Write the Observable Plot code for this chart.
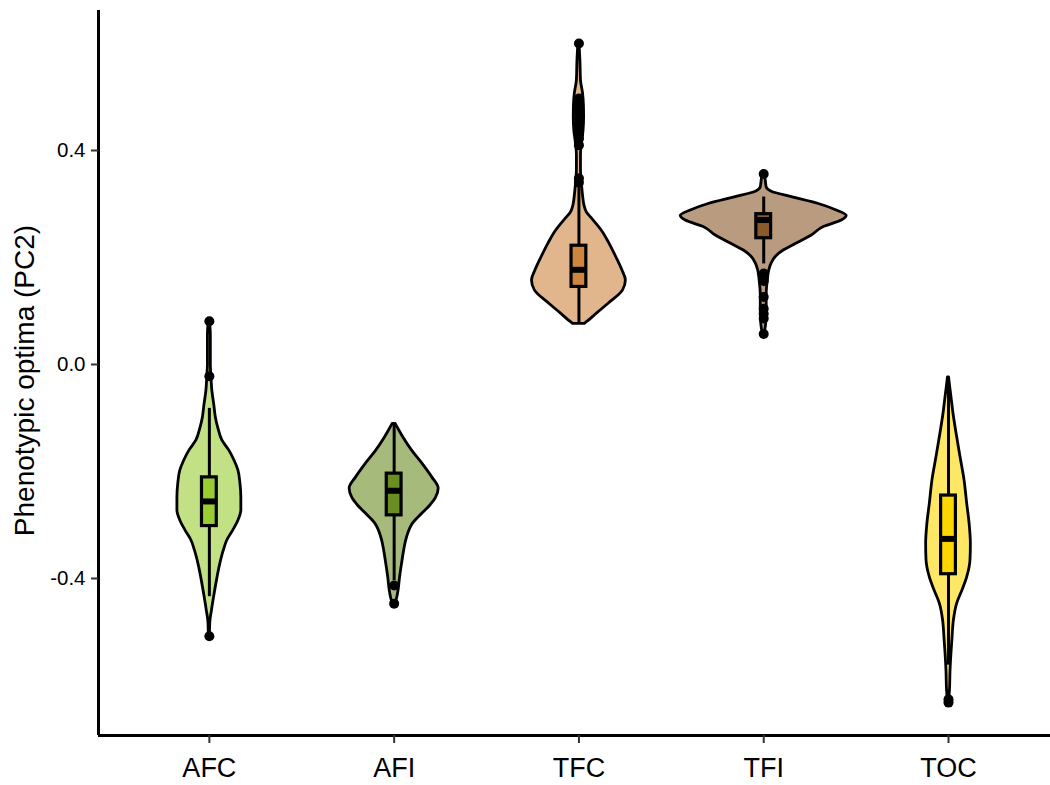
<!DOCTYPE html>
<html>
<head>
<meta charset="utf-8">
<style>
  html, body { margin: 0; padding: 0; background: white; }
</style>
<script src="https://cdn.jsdelivr.net/npm/d3@7"></script>
<script src="https://cdn.jsdelivr.net/npm/@observablehq/plot@0.6"></script>
</head>
<body>
<div id="chart"></div>
<script>
// ---- categories ----
const groups = ["AFC", "AFI", "TFC", "TFI", "TOC"];
const groupColors = ["#9ACD32", "#6B8E23", "#CD853F", "#8B5A2B", "#FFD700"];
const yTicks = [-0.4, 0.0, 0.4];
const yTitle = "Phenotypic optima (PC2)";

// ---- violin profiles: value and half-width (in category units) ----
const afcV = [0.081, 0.054, 0.026, -0.002, -0.022, -0.049, -0.077, -0.099, -0.120, -0.142, -0.161, -0.179, -0.198, -0.222, -0.249, -0.273, -0.292, -0.310, -0.329, -0.348, -0.376, -0.404, -0.432, -0.460, -0.482, -0.508];
const afcW = [0.003, 0.008, 0.008, 0.008, 0.011, 0.016, 0.027, 0.035, 0.049, 0.070, 0.108, 0.135, 0.157, 0.168, 0.173, 0.173, 0.157, 0.130, 0.097, 0.078, 0.057, 0.041, 0.027, 0.014, 0.005, 0.003];

const afiV = [-0.111, -0.123, -0.136, -0.161, -0.185, -0.211, -0.232, -0.249, -0.264, -0.279, -0.297, -0.323, -0.348, -0.372, -0.398, -0.422, -0.437, -0.447];
const afiW = [0.008, 0.027, 0.049, 0.097, 0.152, 0.206, 0.241, 0.227, 0.195, 0.152, 0.103, 0.070, 0.054, 0.043, 0.032, 0.024, 0.016, 0.008];

const tfcV = [0.599, 0.568, 0.531, 0.507, 0.484, 0.462, 0.437, 0.413, 0.391, 0.363, 0.338, 0.316, 0.297, 0.284, 0.273, 0.250, 0.226, 0.200, 0.176, 0.157, 0.138, 0.114, 0.095, 0.082, 0.076];
const tfcW = [0.003, 0.008, 0.011, 0.022, 0.027, 0.028, 0.025, 0.016, 0.011, 0.011, 0.016, 0.022, 0.030, 0.043, 0.070, 0.124, 0.165, 0.203, 0.235, 0.254, 0.238, 0.162, 0.097, 0.054, 0.032];

const tfiV = [0.356, 0.344, 0.331, 0.323, 0.313, 0.300, 0.288, 0.278, 0.269, 0.257, 0.241, 0.226, 0.213, 0.201, 0.189, 0.176, 0.157, 0.129, 0.101, 0.079, 0.057];
const tfiW = [0.005, 0.011, 0.016, 0.043, 0.152, 0.298, 0.395, 0.449, 0.422, 0.325, 0.260, 0.179, 0.108, 0.065, 0.043, 0.030, 0.022, 0.016, 0.016, 0.014, 0.005];

const tocV = [-0.024, -0.039, -0.061, -0.092, -0.136, -0.173, -0.217, -0.260, -0.297, -0.335, -0.366, -0.398, -0.422, -0.447, -0.479, -0.510, -0.540, -0.572, -0.609, -0.628];
const tocW = [0.003, 0.008, 0.016, 0.027, 0.047, 0.065, 0.087, 0.101, 0.114, 0.121, 0.119, 0.101, 0.076, 0.047, 0.029, 0.022, 0.016, 0.011, 0.008, 0.003];

// ---- boxplot statistics ----
const whiskerLow  = [-0.434, -0.404, 0.077, 0.188, -0.562];
const q1s         = [-0.302, -0.282, 0.145, 0.236, -0.392];
const medians     = [-0.256, -0.236, 0.177, 0.270, -0.326];
const q3s         = [-0.211, -0.204, 0.222, 0.281, -0.245];
const whiskerHigh = [-0.082, -0.112, 0.335, 0.313, -0.024];

// ---- outliers ----
const afcOut = [0.081, -0.022, -0.508];
const afiOut = [-0.413, -0.447];
const tfcOut = [0.600, 0.497, 0.490, 0.482, 0.475, 0.468, 0.460, 0.452, 0.445, 0.437, 0.430, 0.422, 0.410, 0.348, 0.340];
const tfiOut = [0.356, 0.170, 0.163, 0.156, 0.126, 0.104, 0.095, 0.086, 0.057];
const tocOut = [-0.626, -0.632];

// ---- build tables ----
const profV = [afcV, afiV, tfcV, tfiV, tocV];
const profW = [afcW, afiW, tfcW, tfiW, tocW];
const outs = [afcOut, afiOut, tfcOut, tfiOut, tocOut];

const violin = groups.flatMap((g, i) =>
  profV[i].map((v, j) => ({g, i: i + 1, v, w: profW[i][j]})).sort((a, b) => a.v - b.v)
);
const boxes = groups.map((g, i) => ({
  g, i: i + 1, lo: whiskerLow[i], q1: q1s[i], med: medians[i], q3: q3s[i], hi: whiskerHigh[i]
}));
const outliers = groups.flatMap((g, i) => outs[i].map(v => ({g, i: i + 1, v})));

const yMin = -0.6935, yMax = 0.6617;
const xMin = 0.4, xMax = 5.552;
const boxHalf = 0.04;

const chart = Plot.plot({
  width: 1050,
  height: 785,
  marginLeft: 98,
  marginRight: 0,
  marginTop: 10,
  marginBottom: 50,
  style: {fontFamily: "'Liberation Sans', Arial, sans-serif", background: "white", color: "black"},
  x: {domain: [xMin, xMax], axis: null},
  y: {domain: [yMin, yMax], axis: null},
  color: {domain: groups, range: groupColors},
  marks: [
    Plot.areaX(violin, {
      y: "v", x1: d => d.i - d.w, x2: d => d.i + d.w, z: "g",
      fill: "g", fillOpacity: 0.6, stroke: "black", strokeWidth: 2.8,
      curve: "monotone-y", strokeLinejoin: "round"
    }),
    Plot.ruleX(boxes, {x: "i", y1: "q3", y2: "hi", stroke: "black", strokeWidth: 3}),
    Plot.ruleX(boxes, {x: "i", y1: "lo", y2: "q1", stroke: "black", strokeWidth: 3}),
    Plot.rect(boxes, {
      x1: d => d.i - boxHalf, x2: d => d.i + boxHalf, y1: "q1", y2: "q3",
      fill: "g", stroke: "black", strokeWidth: 3.2
    }),
    Plot.ruleY(boxes, {y: "med", x1: d => d.i - boxHalf, x2: d => d.i + boxHalf, stroke: "black", strokeWidth: 6}),
    Plot.dot(outliers, {x: "i", y: "v", r: 5, fill: "black", stroke: null}),
    Plot.ruleX([xMin], {stroke: "black", strokeWidth: 3}),
    Plot.ruleY([yMin], {stroke: "black", strokeWidth: 3}),
    Plot.axisY({
      ticks: yTicks, tickFormat: d => d.toFixed(1), tickSize: 7, tickPadding: 6,
      fontSize: 20.5, label: null, stroke: "#333", strokeWidth: 2, fill: "black"
    }),
    Plot.axisX({
      ticks: [1, 2, 3, 4, 5], tickFormat: d => groups[d - 1], tickSize: 8, tickPadding: 14,
      fontSize: 27, label: null, stroke: "#333", strokeWidth: 2, fill: "black"
    }),
    Plot.text([yTitle], {
      text: d => d, frameAnchor: "left", dx: -65, dy: 7.5, rotate: -90,
      textAnchor: "middle", lineAnchor: "bottom", fontSize: 28, fill: "black"
    })
  ]
});
document.getElementById("chart").appendChild(chart);
</script>
</body>
</html>
